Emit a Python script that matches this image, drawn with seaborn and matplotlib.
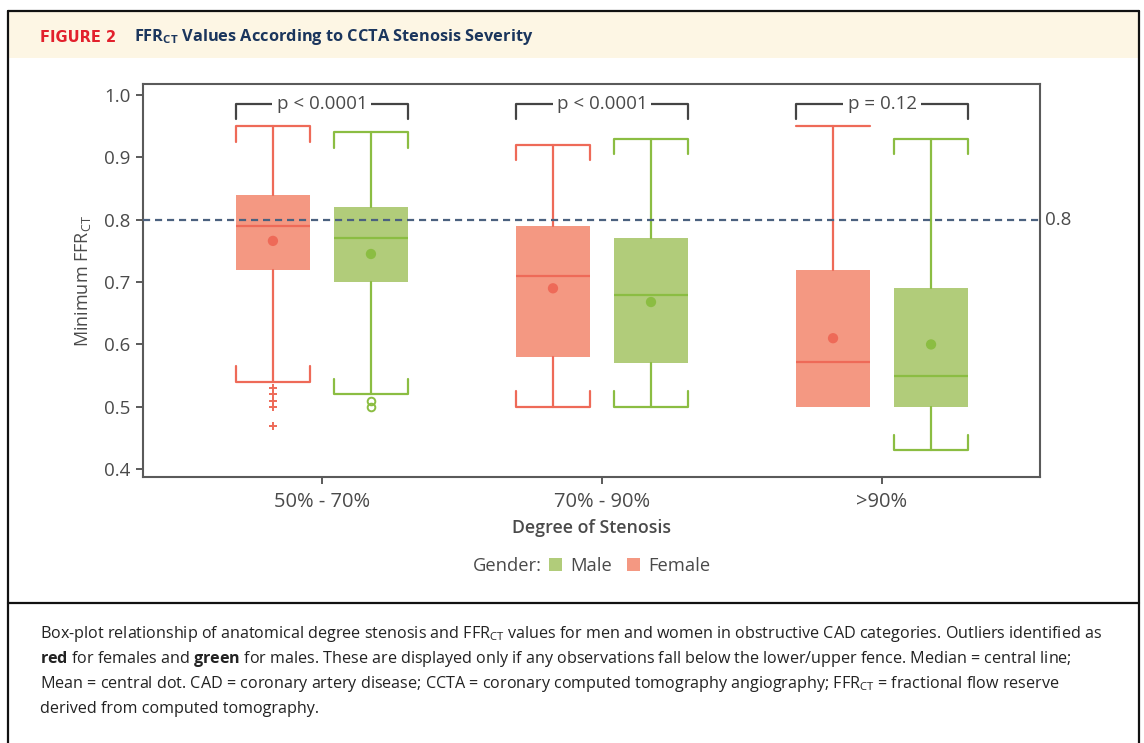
import numpy as np
import pandas as pd
import seaborn as sns
import matplotlib.pyplot as plt
from matplotlib.lines import Line2D
from matplotlib.patches import Patch, Rectangle

# Data
categories = ["50% - 70%", "70% - 90%", ">90%"]
p_values = ["p < 0.0001", "p < 0.0001", "p = 0.12"]

female_q1 = [0.72, 0.58, 0.50]
female_med = [0.79, 0.71, 0.572]
female_q3 = [0.84, 0.79, 0.72]
female_lo = [0.54, 0.50, 0.50]
female_hi = [0.95, 0.92, 0.95]
female_mean = [0.766, 0.69, 0.61]
female_fliers = [[0.53, 0.52, 0.51, 0.50, 0.47], [], []]
female_flat_top = [False, False, True]

male_q1 = [0.70, 0.57, 0.50]
male_med = [0.77, 0.68, 0.55]
male_q3 = [0.82, 0.77, 0.69]
male_lo = [0.52, 0.50, 0.43]
male_hi = [0.94, 0.93, 0.93]
male_mean = [0.745, 0.668, 0.60]
male_fliers = [[0.51, 0.50], [], []]
male_flat_top = [False, False, False]

threshold = 0.8

FEMALE_FILL, FEMALE_LINE = "#F49882", "#EE6A58"
MALE_FILL, MALE_LINE = "#B1CC7A", "#8BBD42"
TEXT = "#4a4a4a"
AXIS = "#5a5a5a"

sns.set_theme(style="white")
plt.rcParams['font.family'] = ['Open Sans', 'DejaVu Sans']
plt.rcParams['mathtext.fontset'] = 'custom'
plt.rcParams['mathtext.rm'] = 'Open Sans'
plt.rcParams['mathtext.bf'] = 'Open Sans:bold'
plt.rcParams['mathtext.it'] = 'Open Sans:italic'

W, H = 1144, 743
fig = plt.figure(figsize=(W / 100, H / 100), dpi=100)


def fx(px):
    return px / W


def fy(py):
    return 1 - py / H


# frame, header band, separator
fig.patches.append(Rectangle((fx(8), fy(58)), fx(1139) - fx(8), fy(11) - fy(58),
                             transform=fig.transFigure, facecolor="#FDF6E4",
                             edgecolor="none", zorder=0))
for xs, ys in [([8, 8], [11, 760]), ([1139, 1139], [11, 760]),
               ([8, 1139], [11, 11]), ([8, 1139], [603, 603])]:
    fig.add_artist(Line2D([fx(x) for x in xs], [fy(y) for y in ys],
                          transform=fig.transFigure, color="#111111", lw=1.6))

fig.text(fx(40), fy(37), "FIGURE 2", color="#E2202C", fontsize=10.5,
         fontweight="bold", family="DejaVu Sans", va="center", ha="left")
fig.text(fx(134), fy(37), r"FFR$_\mathbf{CT}$ Values According to CCTA Stenosis Severity",
         color="#1B365D", fontsize=11.8, fontweight="bold", va="center", ha="left")

ax = fig.add_axes([fx(142.7), fy(476.7), fx(1040) - fx(142.7), fy(84.3) - fy(476.7)])

pos = np.arange(len(categories))
off = 0.175
bw = 0.264
tick_h = 0.025


def stats(q1, med, q3, lo, hi, fl):
    return [dict(q1=q1[i], med=med[i], q3=q3[i], whislo=lo[i], whishi=hi[i],
                 fliers=fl[i]) for i in range(len(q1))]


groups = [
    (pos - off, stats(female_q1, female_med, female_q3, female_lo, female_hi, female_fliers),
     FEMALE_FILL, FEMALE_LINE, "+", female_flat_top),
    (pos + off, stats(male_q1, male_med, male_q3, male_lo, male_hi, male_fliers),
     MALE_FILL, MALE_LINE, "o", male_flat_top),
]

for xpos, st, fill, line, mk, flat in groups:
    ax.bxp(st, positions=xpos, widths=bw, patch_artist=True, showcaps=False,
           boxprops=dict(facecolor=fill, edgecolor="none"),
           medianprops=dict(color=line, lw=1.6),
           whiskerprops=dict(color=line, lw=1.6),
           flierprops=dict(marker=mk, markersize=6 if mk == "+" else 5.5,
                           markeredgecolor=line, markerfacecolor="none",
                           markeredgewidth=1.4))
    # bracket shaped caps
    for i, x in enumerate(xpos):
        s = st[i]
        for end, edge, d, is_flat in [(s["whishi"], s["q3"], -1, flat[i]),
                                      (s["whislo"], s["q1"], 1, False)]:
            if end == edge:
                continue
            if is_flat:
                ax.plot([x - bw / 2, x + bw / 2], [end, end], color=line, lw=1.6)
            else:
                ax.plot([x - bw / 2, x - bw / 2, x + bw / 2, x + bw / 2],
                        [end + d * tick_h, end, end, end + d * tick_h],
                        color=line, lw=1.6)

means = pd.DataFrame({
    "x": np.concatenate([pos - off, pos + off]),
    "mean": female_mean + male_mean,
    "Gender": ["Female"] * 3 + ["Male"] * 3,
})
sns.scatterplot(data=means, x="x", y="mean", hue="Gender",
                palette={"Female": FEMALE_LINE, "Male": MALE_LINE},
                s=55, edgecolor="none", legend=False, ax=ax, zorder=5)

# threshold line
ax.axhline(threshold, color="#4B617F", lw=1.6, dashes=(3.2, 2.2), zorder=6)
ax.text(1.006, threshold, "0.8", transform=ax.get_yaxis_transform(),
        ha="left", va="center", fontsize=13.5, color=TEXT)

# p-value brackets
py = 0.986
for i, p in enumerate(p_values):
    x0, x1 = pos[i] - off - bw / 2, pos[i] + off + bw / 2
    ax.plot([x0, x0, x1, x1], [py - 0.025, py, py, py - 0.025], color="#444444", lw=1.6)
    ax.text(pos[i], py, p, ha="center", va="center", fontsize=13.5, color=TEXT,
            bbox=dict(facecolor="white", edgecolor="none", pad=3), zorder=7)

ax.set_xlim(-0.640, 2.564)
ax.set_ylim(0.388, 1.017)
ax.set_yticks([0.4, 0.5, 0.6, 0.7, 0.8, 0.9, 1.0])
ax.set_yticklabels(["0.4", "0.5", "0.6", "0.7", "0.8", "0.9", "1.0"])
ax.set_xticks(pos)
ax.set_xticklabels(categories)
ax.tick_params(axis="both", colors=AXIS, labelcolor=TEXT,
               length=5, width=1.4, direction="out")
ax.tick_params(axis="x", bottom=True, pad=6, labelsize=14.5)
ax.tick_params(axis="y", left=True, pad=4, labelsize=13.5)
for sp in ax.spines.values():
    sp.set_color(AXIS)
    sp.set_linewidth(1.5)
    sp.set_visible(True)
ax.set_xlabel("Degree of Stenosis", fontsize=12.8, fontweight="semibold",
              color=TEXT, labelpad=5)
ax.set_ylabel(r"Minimum FFR$_\mathregular{CT}$", fontsize=13, color=TEXT, labelpad=8)
ax.grid(False)

# legend
fig.text(fx(542), fy(566), "Gender:", ha="right", va="center", fontsize=13.2, color=TEXT)
handles = [Patch(facecolor=MALE_FILL, edgecolor="none"),
           Patch(facecolor=FEMALE_FILL, edgecolor="none")]
fig.legend(handles, ["Male", "Female"], loc="center left",
           bbox_to_anchor=(fx(549), fy(566)), ncol=2, frameon=False,
           fontsize=13.2, labelcolor=TEXT, handlelength=0.72, handleheight=0.72,
           handletextpad=0.42, columnspacing=0.85, borderpad=0, borderaxespad=0)

# caption
caption = [
    r"Box-plot relationship of anatomical degree stenosis and FFR$_\mathregular{CT}$ values for men and women in obstructive CAD categories. Outliers identified as",
    r"$\mathbf{red}$ for females and $\mathbf{green}$ for males. These are displayed only if any observations fall below the lower/upper fence. Median = central line;",
    r"Mean = central dot. CAD = coronary artery disease; CCTA = coronary computed tomography angiography; FFR$_\mathregular{CT}$ = fractional flow reserve",
    "derived from computed tomography.",
]
for k, line in enumerate(caption):
    fig.text(fx(40), fy(634 + 25 * k), line, ha="left", va="center",
             fontsize=11.6, color="#222222")

fig.savefig("out.png", dpi=100, facecolor="white")
